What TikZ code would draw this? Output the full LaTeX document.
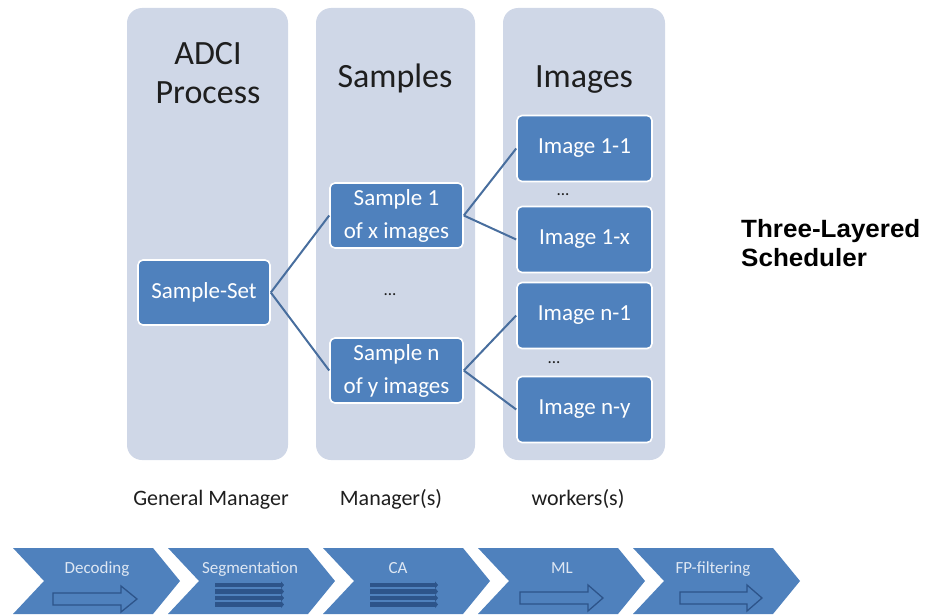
\documentclass[tikz,border=0pt]{standalone}
\usepackage{fontspec}
\setmainfont{Carlito}
\newfontfamily\arialfont{Liberation Sans}
\usetikzlibrary{arrows.meta}
\definecolor{colbg}{RGB}{207,215,231}
\definecolor{boxblue}{RGB}{79,129,189}
\definecolor{linkblue}{RGB}{72,110,158}
\definecolor{iconblue}{RGB}{45,84,138}
\definecolor{chevtext}{RGB}{222,231,243}
\definecolor{darktext}{RGB}{30,30,30}
\begin{document}
\begin{tikzpicture}[x=1pt,y=-1pt,
  colpanel/.style={fill=colbg, rounded corners=15pt},
  bluebox/.style={draw=white, line width=1.6pt, fill=boxblue, rounded corners=5pt,
    text=white, font=\fontsize{23}{33}\selectfont, align=center, inner sep=0pt},
  smallbox/.style={bluebox, minimum width=133pt, minimum height=65pt},
  imgbox/.style={bluebox, minimum width=135pt, minimum height=66pt},
  link/.style={draw=linkblue, line width=2pt},
  title/.style={font=\fontsize{34}{39}\selectfont, text=darktext, align=center, anchor=base, inner sep=0pt},
  role/.style={font=\fontsize{22}{26}\selectfont, text=darktext, anchor=base, inner sep=0pt},
  dots/.style={font=\fontsize{17}{18}\selectfont, text=darktext, anchor=base, inner sep=0pt},
  chevron/.style={fill=boxblue},
  chevlabel/.style={font=\fontsize{17}{18}\selectfont, text=chevtext, anchor=base, inner sep=0pt},
  hollowarrow/.style={draw=iconblue, line width=1.3pt, fill=boxblue},
  bar/.style={draw=iconblue, line width=4.6pt, -{Triangle[length=3pt,width=7pt]}},
]
\useasboundingbox (0,0) rectangle (934,615);

% column panels
\fill[colpanel] (127,8) rectangle (288,460);
\fill[colpanel] (316,8) rectangle (475,460);
\fill[colpanel] (503,8) rectangle (665,460);

% titles (base anchor = last line)
\node[title] (tadci) at (208,104) {ADCI\\Process};
\node[title] (tsamples) at (395,88) {Samples};
\node[title] (timages) at (584,88) {Images};

% boxes
\node[smallbox, minimum width=132pt] (set) at (204,292.5) {Sample-Set};
\node[smallbox] (s1) at (396.5,215.5) {Sample 1\\of x images};
\node[smallbox] (sn) at (396.5,370.5) {Sample n\\of y images};
\node[imgbox] (i11) at (584.5,148.5) {Image 1-1};
\node[imgbox] (i1x) at (584.5,239.5) {Image 1-x};
\node[imgbox] (in1) at (584.5,315.5) {Image n-1};
\node[imgbox] (iny) at (584.5,409.5) {Image n-y};

% dots
\node[dots] (d1) at (390,295) {...};
\node[dots] (d2) at (563,195) {...};
\node[dots] (d3) at (554,363) {...};

% connectors
\draw[link] (set.east) -- (s1.west);
\draw[link] (set.east) -- (sn.west);
\draw[link] (s1.east) -- (i11.west);
\draw[link] (s1.east) -- (i1x.west);
\draw[link] (sn.east) -- (in1.west);
\draw[link] (sn.east) -- (iny.west);

% role labels
\node[role] (rgm) at (211,505) {General Manager};
\node[role] (rm) at (391,505) {Manager(s)};
\node[role] (rw) at (578,505) {workers(s)};

% scheduler label (base anchor = last line)
\node[anchor=base west, inner sep=0pt, align=left, text=black,
  font=\arialfont\bfseries\fontsize{25}{29}\selectfont] (sched) at (741,266)
  {\scalebox{1.04}[1]{Three-Layered}\\\scalebox{1.04}[1]{Scheduler}};

% chevrons
\foreach \L in {13,168,323,478,633}{
  \fill[chevron] (\L,548) -- (\L+140,548) -- (\L+167,581) -- (\L+140,614)
     -- (\L,614) -- (\L+31,581) -- cycle;
}
\node[chevlabel] (c1) at (97,573) {Decoding};
\node[chevlabel] (c2) at (250,573) {Segmentation};
\node[chevlabel] (c3) at (398,573) {CA};
\node[chevlabel] (c4) at (562,573) {ML};
\node[chevlabel] (c5) at (713,573) {FP-filtering};

% hollow arrows
\draw[hollowarrow] (53,593) -- (121,593) -- (121,586) -- (137,599) -- (121,612)
  -- (121,605) -- (53,605) -- cycle;
\draw[hollowarrow] (520,592) -- (588,592) -- (588,585) -- (603,598) -- (588,611)
  -- (588,604) -- (520,604) -- cycle;
\draw[hollowarrow] (680,592) -- (747,592) -- (747,585) -- (762,598) -- (747,611)
  -- (747,604) -- (680,604) -- cycle;

% stacked bars
\foreach \y in {585,591.5,598,604.5}{
  \draw[bar] (215,\y) -- (284,\y);
  \draw[bar] (370,\y) -- (438,\y);
}
\end{tikzpicture}
\end{document}
